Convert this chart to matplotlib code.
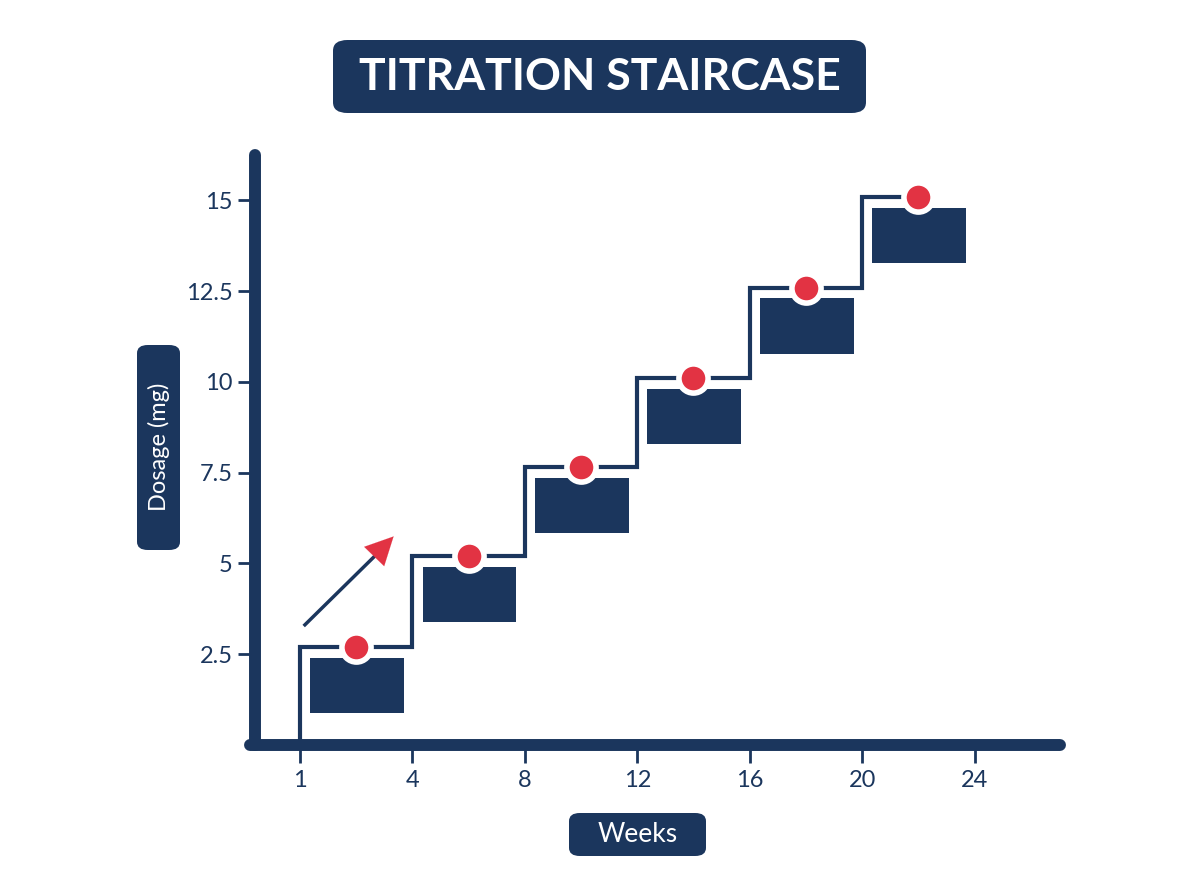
import matplotlib.pyplot as plt
from matplotlib.patches import FancyBboxPatch, Rectangle

# data
weeks = [1, 4, 8, 12, 16, 20, 24]
doses = [2.7, 5.2, 7.65, 10.1, 12.6, 15.1]
ytick_vals = [2.5, 5, 7.5, 10, 12.5, 15]
ytick_labels = ['2.5', '5', '7.5', '10', '12.5', '15']

NAVY = '#1b365d'
RED = '#e23343'
FONT = 'Lato'

fig = plt.figure(figsize=(12, 8.96), dpi=100)
ax = fig.add_axes([255 / 1200, 151 / 896, 805 / 1200, 590 / 896])
ax.set_xlim(-0.4, 6.76)
ax.set_ylim(0, 16.25)
for s in ax.spines.values():
    s.set_visible(False)

# thick axis lines with round caps
ax.plot([0, 0], [0, 1], transform=ax.transAxes, color=NAVY, lw=8.6,
        solid_capstyle='round', clip_on=False, zorder=5)
ax.plot([-0.006, 1], [0, 0], transform=ax.transAxes, color=NAVY, lw=8.6,
        solid_capstyle='round', clip_on=False, zorder=5)

pos = list(range(len(weeks)))
ax.set_xticks(pos)
ax.set_xticklabels([str(w) for w in weeks])
ax.set_yticks(ytick_vals)
ax.set_yticklabels(ytick_labels)
ax.tick_params(axis='x', length=13, width=2, color=NAVY, pad=5,
               labelsize=17, labelcolor=NAVY)
ax.tick_params(axis='y', length=12, width=2, color=NAVY, pad=4,
               labelsize=17, labelcolor=NAVY)
for lab in ax.get_xticklabels() + ax.get_yticklabels():
    lab.set_fontfamily(FONT)

# staircase path
xs = [0]
ys = [0]
for i, d in enumerate(doses):
    xs += [i, i + 1 if i < len(doses) - 1 else i + 0.5]
    ys += [d, d]
ax.plot(xs, ys, color=NAVY, lw=3, solid_joinstyle='miter', zorder=3)

# blocks under each step
for i, d in enumerate(doses):
    ax.add_patch(Rectangle((i + 0.09, d - 1.82), 0.835, 1.52,
                           facecolor=NAVY, edgecolor='none', zorder=2))

# dose points
mid = [i + 0.5 for i in range(len(doses))]
ax.plot(mid, doses, 'o', color=RED, markersize=21, markeredgecolor='white',
        markeredgewidth=4, zorder=6)

# trend arrow
ax.plot([0.044, 0.72], [3.31, 5.37], color=NAVY, lw=2.5, zorder=4)
ax.annotate('', xy=(0.85, 5.8), xytext=(0.6, 5.0),
            arrowprops=dict(arrowstyle='-|>,head_length=2.0,head_width=1.0',
                            color=RED, lw=0.1), zorder=4)

# title box
fig.patches.append(FancyBboxPatch((333 / 1200, (896 - 113) / 896),
                                  533 / 1200, 73 / 896,
                                  boxstyle='round,pad=0,rounding_size=0.012',
                                  transform=fig.transFigure,
                                  facecolor=NAVY, edgecolor='none'))
fig.text(600 / 1200, (896 - 77) / 896, 'TITRATION STAIRCASE', ha='center',
         va='center', color='white', fontsize=32, fontweight='bold',
         family=FONT)

# y label box
fig.patches.append(FancyBboxPatch((137 / 1200, (896 - 550) / 896),
                                  43 / 1200, 205 / 896,
                                  boxstyle='round,pad=0,rounding_size=0.009',
                                  transform=fig.transFigure,
                                  facecolor=NAVY, edgecolor='none'))
fig.text(159 / 1200, (896 - 447) / 896, 'Dosage (mg)', ha='center',
         va='center', rotation=90, color='white', fontsize=17, family=FONT)

# x label box
fig.patches.append(FancyBboxPatch((569 / 1200, (896 - 856) / 896),
                                  137 / 1200, 43 / 896,
                                  boxstyle='round,pad=0,rounding_size=0.009',
                                  transform=fig.transFigure,
                                  facecolor=NAVY, edgecolor='none'))
fig.text(637.5 / 1200, (896 - 834) / 896, 'Weeks', ha='center',
         va='center', color='white', fontsize=19, family=FONT)

fig.savefig('out.png', dpi=100)
